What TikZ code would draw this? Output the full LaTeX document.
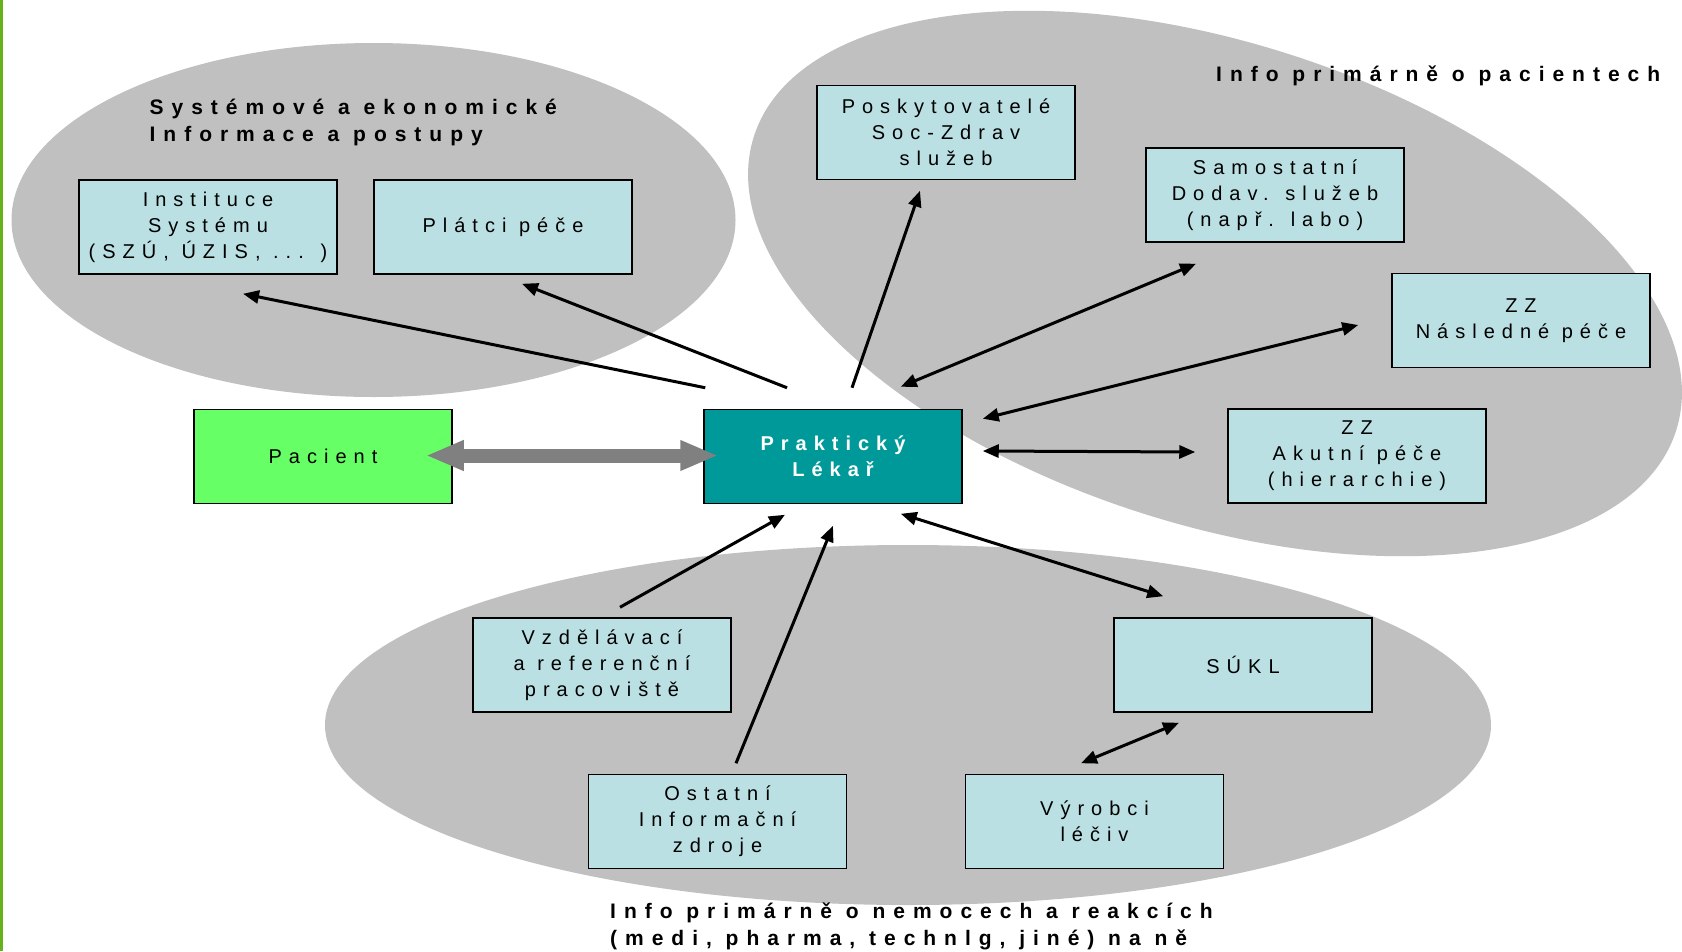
\documentclass[tikz,border=0pt]{standalone}
\usepackage{fontspec}
\setmainfont{Liberation Sans}
\newfontfamily\spacedfont[LetterSpace=35]{Liberation Sans}
\newfontfamily\titlefont[LetterSpace=38]{Liberation Sans}
\usetikzlibrary{arrows.meta,calc}
\definecolor{boxblue}{RGB}{187,224,227}
\definecolor{tealbox}{RGB}{0,153,153}
\definecolor{pgreen}{RGB}{102,255,102}
\definecolor{ellgray}{RGB}{192,192,192}
\definecolor{edgegreen}{RGB}{102,178,26}
\definecolor{arrgray}{RGB}{128,128,128}
\begin{document}
\begin{tikzpicture}[x=1pt,y=-1pt,
  box/.style={draw=black, line width=1.5pt, fill=boxblue, minimum width=258pt, minimum height=94pt, inner sep=0pt, align=center, font=\fontsize{20}{26}\selectfont\spacedfont},
  arr/.style={line width=3pt, -{Triangle[length=16pt,width=13pt]}},
  darr/.style={line width=3pt, {Triangle[length=16pt,width=13pt]}-{Triangle[length=16pt,width=13pt]}},
  ttl/.style={font=\fontsize{21}{27}\selectfont\titlefont\bfseries, align=left, inner sep=0pt, anchor=west}
]
\useasboundingbox (0,0) rectangle (1682,951);
\fill[white] (0,0) rectangle (1682,951);
\draw[edgegreen, line width=2.5pt] (1.25,0) -- (1.25,951);
% ellipses
\fill[ellgray] (373.5,220) ellipse [x radius=362, y radius=177];
\fill[ellgray, rotate around={-17.7:(1215,283.5)}] (1215,283.5) ellipse [x radius=484, y radius=241];
\fill[ellgray] (908,725) ellipse [x radius=583, y radius=180];
% titles
\node[ttl] (t1) at (149.5,122) {Systémové a ekonomické\\Informace a postupy};
\node[ttl] (t2) at (1216,76) {Info primárně o pacientech};
\node[ttl] (t3) at (610,926) {Info primárně o nemocech a reakcích\\(medi, pharma, technlg, jiné) na ně};
% boxes
\node[box] (inst) at (208,227) {Instituce\\Systému\\(SZÚ, ÚZIS, ... )};
\node[box] (plat) at (503,227) {Plátci péče};
\node[box] (posk) at (946,132.5) {Poskytovatelé\\Soc-Zdrav\\služeb};
\node[box] (samo) at (1275,195) {Samostatní\\Dodav. služeb\\(např. labo)};
\node[box] (zzn) at (1521,320.5) {ZZ\\Následné péče};
\node[box] (zza) at (1357,456) {ZZ\\Akutní péče\\(hierarchie)};
\node[box, fill=pgreen] (pac) at (323,456.5) {Pacient};
\node[box, fill=tealbox, text=white, font=\fontsize{20}{26}\selectfont\spacedfont\bfseries] (prak) at (833,456.5) {Praktický\\Lékař};
\node[box] (vzd) at (602,665) {Vzdělávací\\a referenční\\pracoviště};
\node[box] (sukl) at (1243,665) {SÚKL};
\node[box] (ost) at (717.5,821.5) {Ostatní\\Informační\\zdroje};
\node[box] (vyr) at (1094.5,821.5) {Výrobci\\léčiv};
% connectors
\draw[arr] ($(prak.north west)+(2,-21)$) -- ($(inst.south)+(35,19)$);
\draw[arr] ($(prak.north)+(-46,-21)$) -- ($(plat.south)+(19,9)$);
\draw[arr] ($(prak.north)+(19,-21)$) -- ($(posk.south)+(-26,10.5)$);
\draw[darr] ($(prak.north east)+(-62,-22)$) -- ($(samo.south)+(-79,21)$);
\draw[darr] ($(prak.north east)+(20,10)$) -- ($(zzn.west)+(-33,4.5)$);
\draw[darr] ($(prak.east)+(20,-5.5)$) -- ($(zza.west)+(-32,-4)$);
\draw[darr] ($(prak.south east)+(-62,9.5)$) -- ($(sukl.north west)+(50,-21)$);
\draw[darr] ($(sukl.south)+(-64,10)$) -- ($(vyr.north)+(-13.5,-10.5)$);
\draw[arr] ($(vzd.north)+(18,-10)$) -- ($(prak.south)+(-48,10.5)$);
\draw[arr] ($(ost.north)+(18.5,-10.5)$) -- ($(prak.south)+(0,21.5)$);
\draw[arrgray, line width=14pt, {Triangle[length=38pt,width=28pt]}-{Triangle[length=38pt,width=28pt]}] ($(pac.east)+(-27,-1)$) -- ($(prak.west)+(15,-1)$);
\end{tikzpicture}
\end{document}
